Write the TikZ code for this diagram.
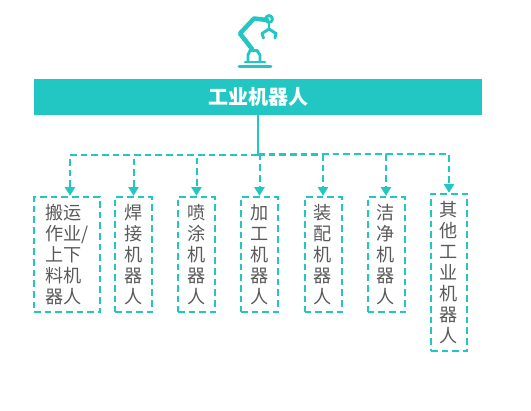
\documentclass[tikz,border=0pt]{standalone}
\usepackage{fontspec}
\usepackage{xcolor}
\setmainfont{Noto Sans CJK SC}
\usetikzlibrary{arrows.meta}
\definecolor{robotteal}{HTML}{22C7C3}
\definecolor{robotgray}{HTML}{5A5A5A}
\tikzset{
  banner/.style={fill=robotteal,text=white,minimum width=336pt,minimum height=26.5pt,inner sep=0pt,font=\fontsize{15}{18}\selectfont\bfseries},
  kindbox/.style={draw=robotteal,line width=1.5pt,dash pattern=on 5pt off 3pt,text=robotgray,inner sep=0pt,align=left,font=\fontsize{13.6}{15.75}\selectfont},
  trunk/.style={draw=robotteal,line width=1.5pt},
  link/.style={draw=robotteal,line width=1.5pt,dash pattern=on 5pt off 3pt,-{Triangle[length=6.5pt,width=7.5pt]}},
  iconline/.style={draw=robotteal,line width=2.2pt,line join=round,line cap=round,fill=none}
}
\begin{document}
\begin{tikzpicture}[x=0.75pt,y=-0.75pt]
\useasboundingbox (0,0) rectangle (531,410);
% icon
\draw[iconline] (239,66.5) -- (271,66.5);
\draw[iconline] (245,62) -- (265,62);
\draw[iconline] (248,62) -- (248,55) -- (250,50.5) -- (257,50.5) -- (260,55) -- (260,62);
\draw[iconline,line width=3.4pt] (252,49) -- (240,33.5) -- (254,18.5) -- (267,20);
\draw[iconline] (269,19) circle (3.4);
\draw[iconline] (269,24) -- (269,29);
\draw[iconline] (263.5,38) -- (262,33.5) -- (269,29) -- (276,33.5) -- (275,38);
% top
\node[banner] (top) at (258,97) {工业机器人};
% boxes
\node[kindbox,minimum width=49.5pt,minimum height=86.5pt] (box1) at (67,254.5) {搬运\\作业/\\上下\\料机\\器人};
\node[kindbox,minimum width=27.75pt,minimum height=86.5pt] (box2) at (133.5,254.5) {焊\\接\\机\\器\\人};
\node[kindbox,minimum width=27.75pt,minimum height=86.5pt] (box3) at (196.5,254.5) {喷\\涂\\机\\器\\人};
\node[kindbox,minimum width=27.75pt,minimum height=86.5pt] (box4) at (259.5,254.5) {加\\工\\机\\器\\人};
\node[kindbox,minimum width=27.75pt,minimum height=86.5pt] (box5) at (323,254.5) {装\\配\\机\\器\\人};
\node[kindbox,minimum width=27.75pt,minimum height=86.5pt] (box6) at (386,254.5) {洁\\净\\机\\器\\人};
\node[kindbox,minimum width=27pt,minimum height=118pt] (box7) at (449,272.5) {其\\他\\工\\业\\机\\器\\人};
% connectors
\coordinate (hub) at (258,155);
\coordinate (hubright) at (258,154);
\draw[trunk] (top.south) -- (hub);
\draw[link] (hub) -| ([xshift=2.25pt]box1.north);
\draw[link] (hub) -| (box2.north);
\draw[link] (hub) -| (box3.north);
\draw[link] (hub) -| (box4.north);
\draw[link] (hub) -| (box5.north);
\draw[link] (hubright) -| (box6.north);
\draw[link] (hubright) -| (box7.north);
\end{tikzpicture}
\end{document}
